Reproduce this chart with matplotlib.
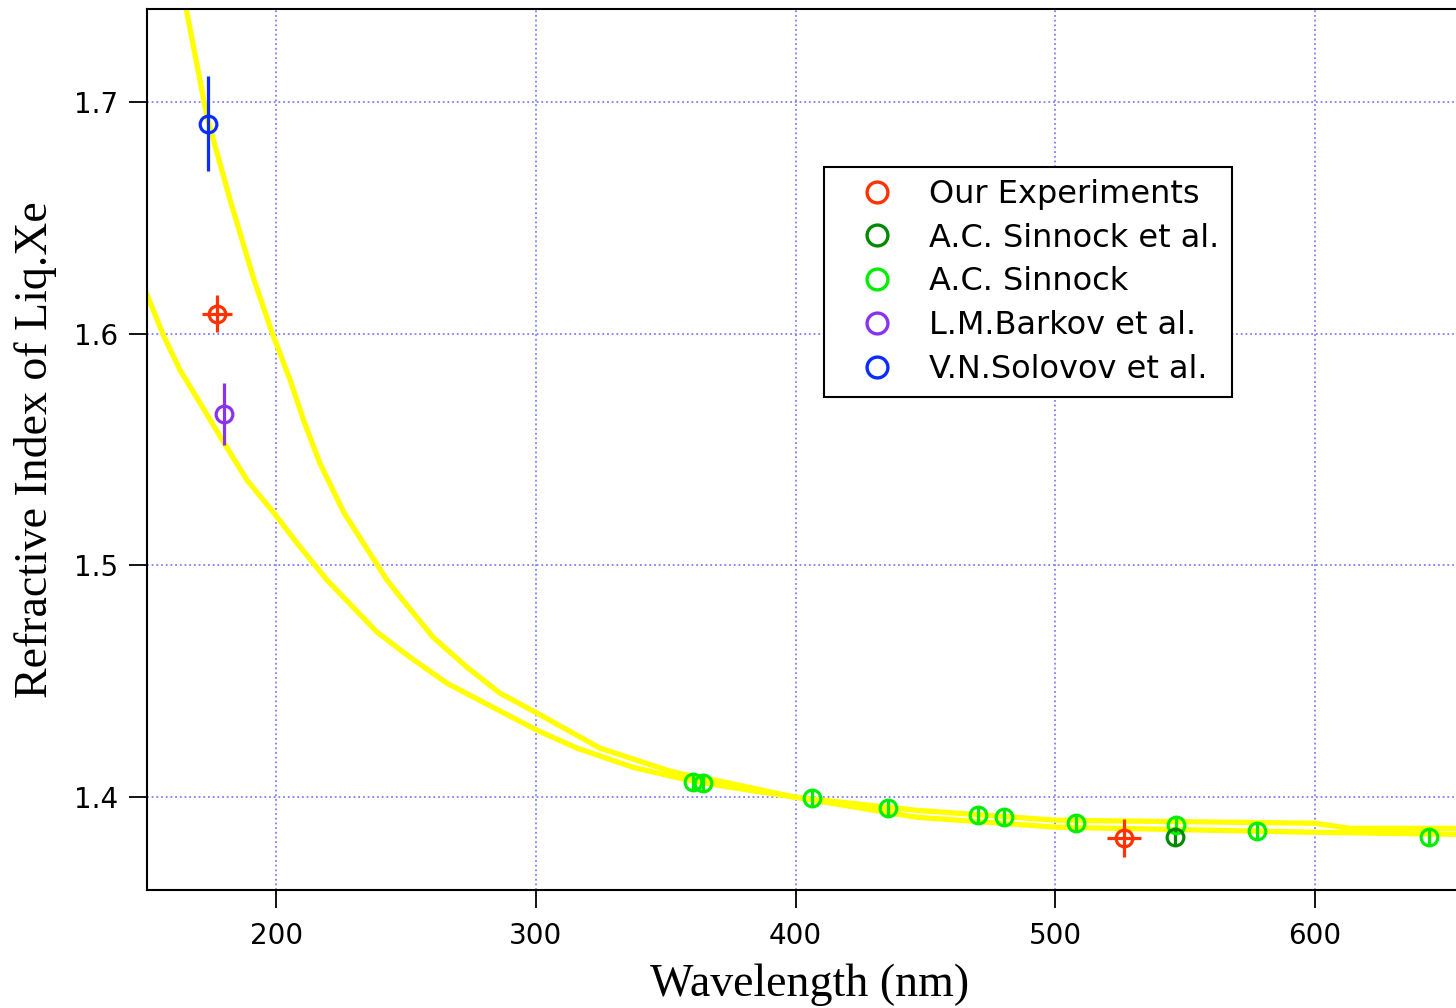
import matplotlib
matplotlib.use("Agg")
import matplotlib.pyplot as plt
from matplotlib.lines import Line2D

# Fitted dispersion curves
curve_a_x = [165.4, 173.4, 182.3, 191.5, 198.5, 205.4, 210.8, 216.9, 226.2, 242.7,
             247.7, 260.4, 273.5, 286.2, 300.5, 324.7, 350.5, 356.3, 369.8, 400.0,
             446.4, 500.3, 600.0, 654.3]
curve_a_y = [1.7401, 1.6935, 1.6577, 1.6232, 1.6003, 1.5800, 1.5620, 1.5440, 1.5226, 1.4937,
             1.4866, 1.4691, 1.4561, 1.4449, 1.4363, 1.4212, 1.4117, 1.4100, 1.4072, 1.4000,
             1.3914, 1.3871, 1.3849, 1.3840]
curve_b_x = [150.3, 156.9, 163.0, 170.7, 180.0, 188.8, 199.2, 208.1, 219.6, 238.9,
             251.6, 265.8, 283.5, 300.5, 315.9, 337.5, 356.3, 369.8, 400.0, 446.4,
             500.3, 600.0, 613.5, 654.3]
curve_b_y = [1.6167, 1.5986, 1.5843, 1.5701, 1.5528, 1.5368, 1.5226, 1.5096, 1.4937, 1.4712,
             1.4604, 1.4492, 1.4388, 1.4289, 1.4212, 1.4129, 1.4080, 1.4052, 1.4000, 1.3944,
             1.3901, 1.3888, 1.3866, 1.3866]

# Measurements
ours_x = [177.3, 526.5]
ours_y = [1.6085, 1.3823]
ours_xerr = [5.8, 6.5]
ours_yerr = [0.0080, 0.0082]

sinnock_al_x = [546.1]
sinnock_al_y = [1.3827]

sinnock_x = [360.5, 364.4, 406.4, 435.6, 470.3, 480.3, 508.0, 546.5, 577.7, 643.9]
sinnock_y = [1.4065, 1.4060, 1.3996, 1.3953, 1.3922, 1.3914, 1.3888, 1.3879, 1.3853, 1.3827]

barkov_x = [180.0]
barkov_y = [1.5653]
barkov_yerr = [0.0132]

solovov_x = [173.8]
solovov_y = [1.6905]
solovov_yerr = [0.0205]

RED = "#ff3300"
DKGREEN = "#008a00"
LTGREEN = "#00ee00"
PURPLE = "#8833ee"
BLUE = "#0a2cff"

fig = plt.figure(figsize=(14.56, 10.08), dpi=100)
ax = fig.add_axes([147 / 1456, 118 / 1008, 1309 / 1456, 881 / 1008])

ax.plot(curve_a_x, curve_a_y, color="#ffff00", lw=3.8, zorder=2)
ax.plot(curve_b_x, curve_b_y, color="#ffff00", lw=3.8, zorder=2)

mk = dict(fmt="o", ms=12, mfc="none", mew=2.3, elinewidth=2.3, capsize=0, zorder=4)
ax.errorbar(sinnock_x, sinnock_y, yerr=0.0037, color=LTGREEN, ecolor=LTGREEN, **mk)
ax.errorbar(sinnock_al_x, sinnock_al_y, yerr=0.0037, color=DKGREEN, ecolor=DKGREEN, **mk)
ax.errorbar(ours_x, ours_y, xerr=ours_xerr, yerr=ours_yerr, color=RED, ecolor=RED, **mk)
ax.errorbar(barkov_x, barkov_y, yerr=barkov_yerr, color=PURPLE, ecolor=PURPLE, **mk)
ax.errorbar(solovov_x, solovov_y, yerr=solovov_yerr, color=BLUE, ecolor=BLUE, **mk)

ax.set_xlim(150.3, 654.3)
ax.set_ylim(1.36, 1.74)
ax.set_xticks([200, 300, 400, 500, 600])
ax.set_yticks([1.4, 1.5, 1.6, 1.7])
ax.set_yticklabels(["1.4", "1.5", "1.6", "1.7"])

ax.grid(True, color="#7f7fff", linestyle=(0, (1, 1.6)), lw=1.3, zorder=1)
ax.set_axisbelow(True)

ax.spines["right"].set_visible(False)
for s in ["left", "bottom", "top"]:
    ax.spines[s].set_linewidth(1.5)
    ax.spines[s].set_color("black")

ax.tick_params(direction="out", length=13, width=1.3, labelsize=20,
               top=False, right=False, pad=8)
ax.tick_params(axis="x", pad=10)
for lab in ax.get_xticklabels() + ax.get_yticklabels():
    lab.set_family("DejaVu Sans")

ax.set_xlabel("Wavelength (nm)", family="Liberation Serif", fontsize=33, labelpad=9)
ax.xaxis.set_label_coords(0.506, -0.083)
ax.set_ylabel("Refractive Index of Liq.Xe", family="Liberation Serif", fontsize=33, labelpad=12)

handles = [
    Line2D([], [], ls="none", marker="o", ms=15, mfc="none", mew=2.4, color=RED),
    Line2D([], [], ls="none", marker="o", ms=15, mfc="none", mew=2.4, color=DKGREEN),
    Line2D([], [], ls="none", marker="o", ms=15, mfc="none", mew=2.4, color=LTGREEN),
    Line2D([], [], ls="none", marker="o", ms=15, mfc="none", mew=2.4, color=PURPLE),
    Line2D([], [], ls="none", marker="o", ms=15, mfc="none", mew=2.4, color=BLUE),
]
labels = ["Our Experiments", "A.C. Sinnock et al.", "A.C. Sinnock",
          "L.M.Barkov et al.", "V.N.Solovov et al."]
leg = ax.legend(handles, labels, loc="upper left", bbox_to_anchor=(0.517, 0.821),
                prop={"family": "DejaVu Sans", "size": 23}, numpoints=1,
                frameon=True, fancybox=False, framealpha=1, edgecolor="black",
                borderpad=0.38, handlelength=2.55, handletextpad=0.38,
                labelspacing=0.40, borderaxespad=0)
leg.get_frame().set_linewidth(1.5)
leg.set_zorder(5)

fig.savefig("out.png", dpi=100)
